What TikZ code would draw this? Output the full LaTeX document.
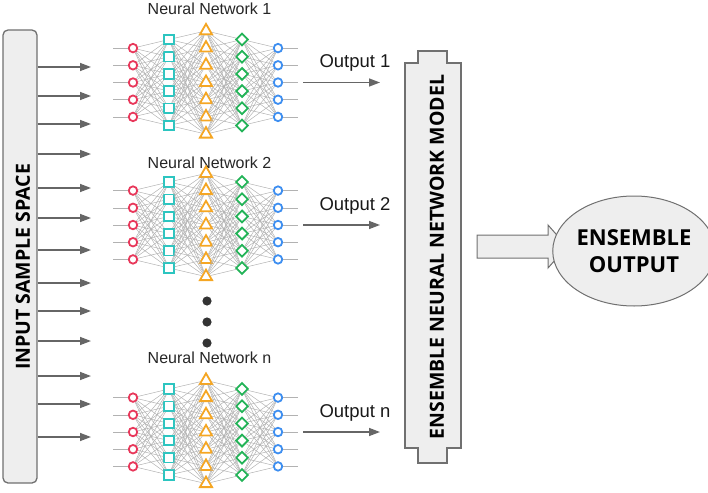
\documentclass[tikz,border=0pt]{standalone}
\usepackage{fontspec}
\setmainfont{Liberation Sans}
\newfontfamily\headfont{Open Sans}
\usetikzlibrary{arrows.meta,shapes.geometric}

\definecolor{nnred}{HTML}{E8375A}
\definecolor{nncyan}{HTML}{2CC5C0}
\definecolor{nnorange}{HTML}{F5A623}
\definecolor{nngreen}{HTML}{22B357}
\definecolor{nnblue}{HTML}{3D8EF0}
\definecolor{boxgray}{HTML}{EEEEEE}
\definecolor{edgegray}{HTML}{707070}

\tikzset{
  cell/.style={fill=white, line width=1.8pt, inner sep=0pt},
  incell/.style={cell, circle, draw=nnred, minimum size=8.5pt},
  sqcell/.style={cell, rectangle, draw=nncyan, minimum size=9.5pt},
  tricell/.style={cell, regular polygon, regular polygon sides=3, draw=nnorange, minimum size=14pt},
  dicell/.style={cell, diamond, draw=nngreen, minimum size=12.5pt},
  outcell/.style={cell, circle, draw=nnblue, minimum size=8.5pt},
  wire/.style={black!30, line width=0.5pt},
  arr/.style={draw=black!60, line width=1.4pt, -{Triangle[length=11pt,width=8pt]}},
  boxline/.style={draw=edgegray, fill=boxgray, line width=1.3pt},
  nettitle/.style={anchor=base, text=black!85, font=\fontsize{16}{19}\selectfont},
  outlab/.style={anchor=base west, text=black!90, font=\fontsize{18.5}{22}\selectfont},
  vlab/.style={rotate=90, inner sep=0pt, font=\headfont\bfseries\fontsize{19.5}{23}\selectfont}
}

\begin{document}
\begin{tikzpicture}[x=1pt, y=-1pt]
    \useasboundingbox (0,0) rectangle (708,492);

    % input sample space
    \node [boxline, rounded corners=5pt, minimum width=34pt, minimum height=453pt, inner sep=0pt] (inbox) at (20,256.5) {};
    \node [vlab] (inlab) at (23,267) {INPUT SAMPLE SPACE};
    \foreach \y [count=\i] in {67,96,124,154,188,218,250,283,311,341,376,404,437}
    {
        \coordinate (in\i) at (91,\y);
        \draw [arr] (inbox.east |- in\i) -- (in\i);
    }

    % the three networks
    \foreach \k/\cy/\ty in {1/82.5/15, 2/225/168, n/432/363}
    {
        \node [nettitle] (title\k) at (209.5,\ty) {Neural Network \k};
        \foreach \l/\x/\m/\s in {1/133/5/incell, 2/169/6/sqcell, 3/206/7/tricell, 4/242/6/dicell, 5/278/5/outcell}
            \foreach \i in {1,...,\m}
                \node [\s] (\k-\l-\i) at (\x,{\cy+(\i-(\m+1)/2)*17.2}) {};
        \foreach \l/\m/\nl/\nm in {1/5/2/6, 2/6/3/7, 3/7/4/6, 4/6/5/5}
            \foreach \i in {1,...,\m}
                \foreach \j in {1,...,\nm}
                    \draw [wire] (\k-\l-\i) -- (\k-\nl-\j);
        \foreach \i in {1,...,5}
        {
            \draw [wire] (\k-1-\i.west) -- +(-15,0);
            \draw [wire] (\k-5-\i.east) -- +(15,0);
        }
        \coordinate (out\k) at (380,\cy);
        \draw [arr] ([xshift=20pt]\k-5-3.east) -- (out\k);
        \node [outlab] (outlab\k) at (316,\cy-15) {Output \k};
    }

    % dots between network 2 and n
    \foreach \y in {301,322,343}
        \fill [black!80] (207,\y) circle (4.6);

    % ensemble model
    \draw [boxline] (405,63) -- (418,63) -- (418,51) -- (447,51) -- (447,63) -- (461,63)
        -- (461,448) -- (447,448) -- (447,463) -- (418,463) -- (418,448) -- (405,448) -- cycle;
    \node [vlab] (ens) at (437,257) {ENSEMBLE NEURAL NETWORK MODEL};

    % block arrow and output
    \draw [boxline, line width=1pt] (477,235) -- (548,235) -- (548,225) -- (567,246.5)
        -- (548,268) -- (548,258) -- (477,258) -- cycle;
    \node [ellipse, draw=edgegray, fill=boxgray, line width=1pt, minimum width=122pt, minimum height=110pt,
        inner sep=0pt, align=center, font=\headfont\bfseries\fontsize{22}{27}\selectfont] (ensout) at (634,251) {ENSEMBLE\\OUTPUT};
\end{tikzpicture}
\end{document}
